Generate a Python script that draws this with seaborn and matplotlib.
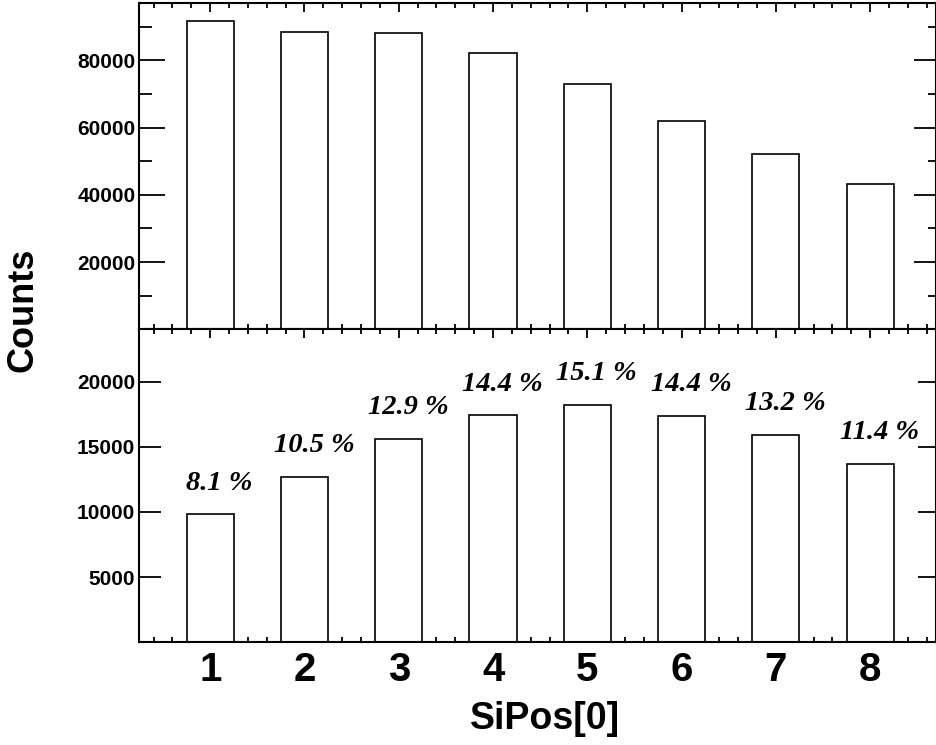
import numpy as np
import matplotlib
matplotlib.use("Agg")
import matplotlib.pyplot as plt
from matplotlib.ticker import FixedLocator, MultipleLocator, NullLocator
import seaborn as sns

# SiPos[0] bins and the counts in each
si_pos = [1, 2, 3, 4, 5, 6, 7, 8]
counts_all = [91770, 88310, 88020, 82250, 73030, 62020, 52200, 43100]
counts_sel = [9800, 12700, 15600, 17400, 18210, 17390, 15880, 13700]

x_tick_labels = ["1", "2", "3", "4", "5", "6", "7", "8"]
top_y_ticks = [20000, 40000, 60000, 80000]
top_y_minor = [10000, 30000, 50000, 70000, 90000]
bot_y_ticks = [5000, 10000, 15000, 20000]

x_title = "SiPos[0]"
y_title = "Counts"

sns.set_theme(style="white")
plt.rcParams["font.family"] = ["Liberation Sans", "DejaVu Sans"]
plt.rcParams["axes.linewidth"] = 1.5
for key in ("text.color", "axes.labelcolor", "xtick.color", "ytick.color",
            "axes.edgecolor"):
    plt.rcParams[key] = "black"

W, H = 937, 745
fig = plt.figure(figsize=(W / 100, H / 100), dpi=100)
fig.patch.set_facecolor("white")

left, right = 139.5 / W, 936.2 / W
y_top, y_mid, y_bot = 1 - 3 / H, 1 - 329.4 / H, 1 - 642.2 / H
ax_top = fig.add_axes([left, y_mid, right - left, y_top - y_mid])
ax_bot = fig.add_axes([left, y_bot, right - left, y_mid - y_bot])

bar_kw = dict(native_scale=True, width=0.5, color="white", saturation=1,
              edgecolor="black", linewidth=1.2, errorbar=None)
sns.barplot(x=si_pos, y=counts_all, ax=ax_top, **bar_kw)
sns.barplot(x=si_pos, y=counts_sel, ax=ax_bot, **bar_kw)

xlim = (0.25, 8.70)
tick_style = dict(direction="in", color="black", width=1.3)

for ax in (ax_top, ax_bot):
    ax.set_facecolor("white")
    ax.set_xlim(*xlim)
    ax.set_xlabel("")
    ax.set_ylabel("")
    for sp in ax.spines.values():
        sp.set_visible(True)
        sp.set_color("black")
        sp.set_linewidth(1.5)
    ax.xaxis.set_major_locator(FixedLocator(si_pos))
    ax.xaxis.set_minor_locator(MultipleLocator(0.2))
    ax.tick_params(axis="x", which="major", top=True, bottom=True,
                   length=6.8, **tick_style)
    ax.tick_params(axis="x", which="minor", top=True, bottom=True,
                   length=3.6, **tick_style)
    ax.grid(False)

# upper panel: all entries
ax_top.set_ylim(0, 97000)
ax_top.yaxis.set_major_locator(FixedLocator(top_y_ticks))
ax_top.yaxis.set_minor_locator(FixedLocator(top_y_minor))
ax_top.set_yticklabels([str(v) for v in top_y_ticks])
ax_top.tick_params(axis="y", which="major", left=True, right=False,
                   length=19.0, pad=3.0, labelsize=15, labelcolor="black",
                   **tick_style)
ax_top.tick_params(axis="y", which="minor", left=True, right=False,
                   length=9.5, **tick_style)
ax_top.tick_params(axis="x", labelbottom=False)

sec_top = ax_top.secondary_yaxis("right")
sec_top.spines["right"].set_visible(False)
sec_top.yaxis.set_major_locator(FixedLocator(top_y_ticks))
sec_top.yaxis.set_minor_locator(FixedLocator(top_y_minor))
sec_top.tick_params(axis="y", which="major", length=15.5, labelright=False,
                    **tick_style)
sec_top.tick_params(axis="y", which="minor", length=6.0, labelright=False,
                    **tick_style)

# lower panel: selected entries with their share of the total
ax_bot.set_ylim(0, 24000)
ax_bot.yaxis.set_major_locator(FixedLocator(bot_y_ticks))
ax_bot.yaxis.set_minor_locator(NullLocator())
ax_bot.set_yticklabels([str(v) for v in bot_y_ticks])
ax_bot.tick_params(axis="y", which="major", left=True, right=False,
                   length=16.0, pad=3.0, labelsize=15, labelcolor="black",
                   **tick_style)
ax_bot.set_xticklabels(x_tick_labels)
ax_bot.tick_params(axis="x", which="major", pad=6, labelsize=29,
                   labelcolor="black")

sec_bot = ax_bot.secondary_yaxis("right")
sec_bot.spines["right"].set_visible(False)
sec_bot.yaxis.set_major_locator(FixedLocator(bot_y_ticks))
sec_bot.yaxis.set_minor_locator(NullLocator())
sec_bot.tick_params(axis="y", which="major", length=13.0, labelright=False,
                    **tick_style)

for lab in ax_top.get_yticklabels() + ax_bot.get_yticklabels() + ax_bot.get_xticklabels():
    lab.set_fontweight("bold")
    lab.set_color("black")

total_sel = float(np.sum(counts_sel))
for xv, yv in zip(si_pos, counts_sel):
    share = 100.0 * yv / total_sel
    ax_bot.text(xv + 0.1, yv + 1900, f"{share:.1f} %", ha="center",
                va="baseline", fontsize=20.5, fontweight="bold",
                fontstyle="italic", color="black",
                family=["Liberation Serif", "DejaVu Serif"])

fig.text(545 / W, 1 - 719 / H, x_title, ha="center", va="center",
         fontsize=27, fontweight="bold", color="black")
fig.text(23 / W, 1 - 310 / H, y_title, ha="center", va="center",
         rotation=90, fontsize=26, fontweight="bold", color="black")

fig.savefig("out.png", dpi=100, facecolor="white")
